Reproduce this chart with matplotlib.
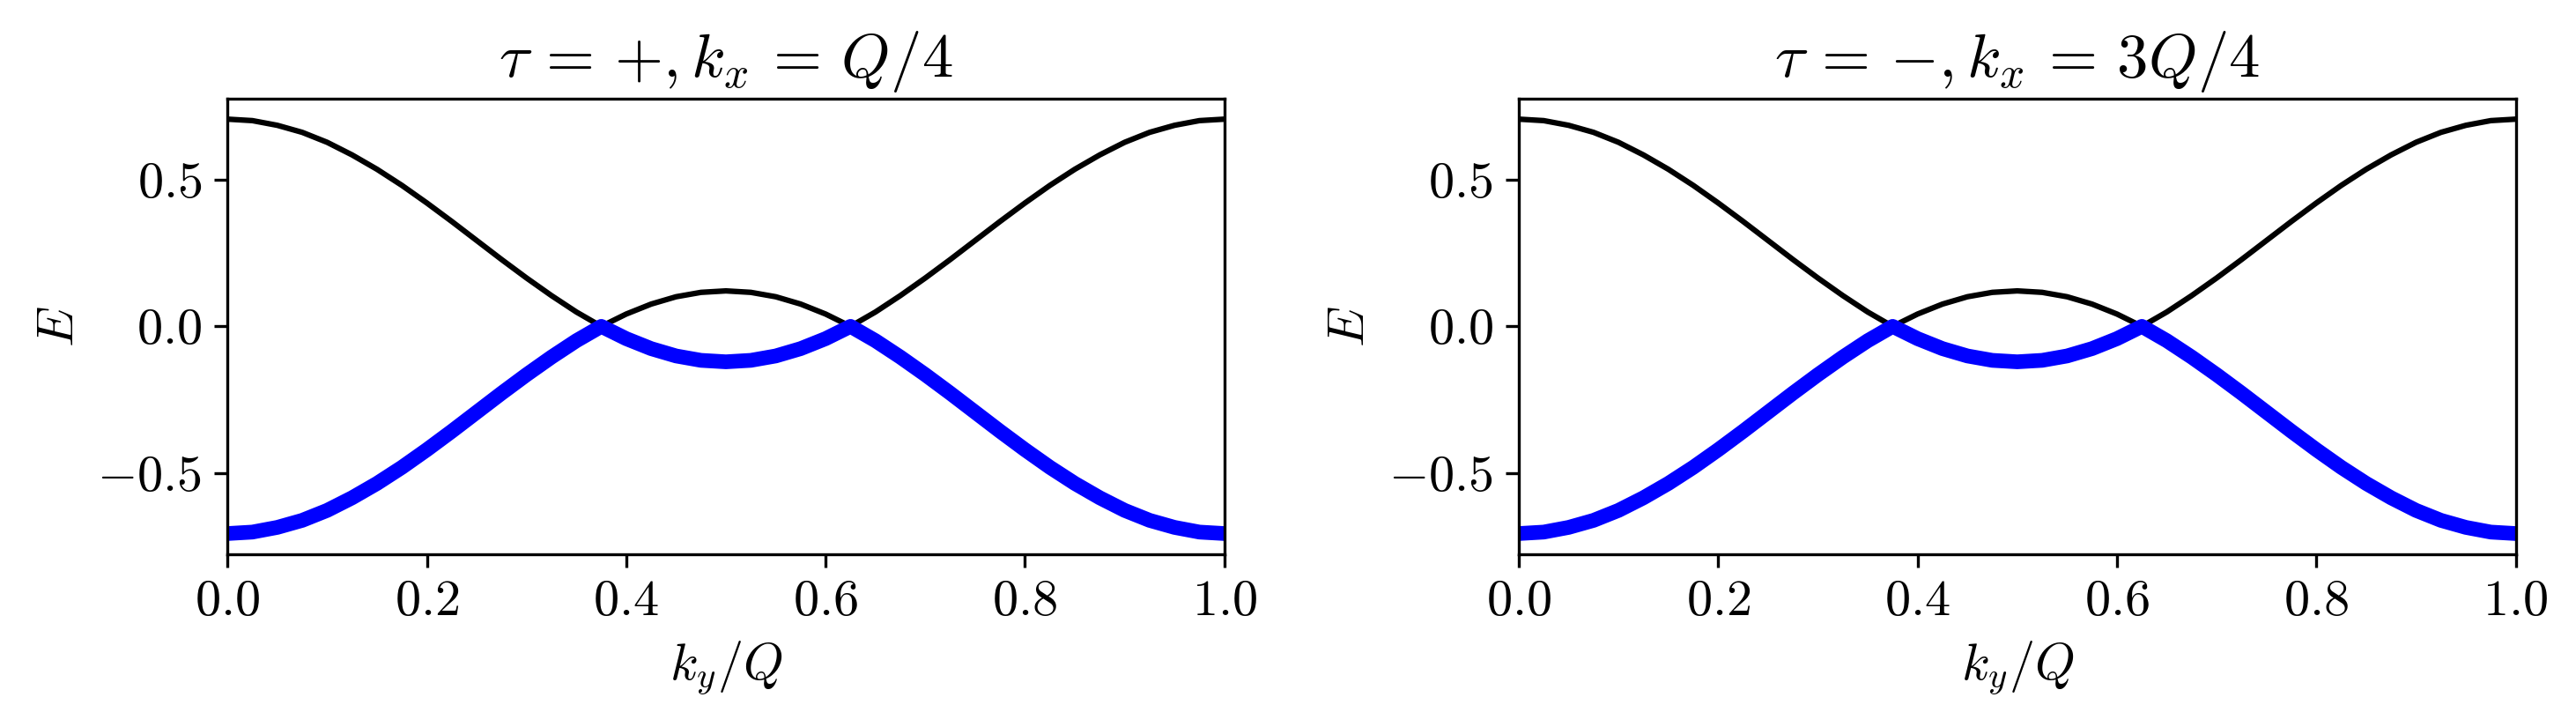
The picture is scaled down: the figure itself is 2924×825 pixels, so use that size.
import matplotlib
matplotlib.use("Agg")
import matplotlib.pyplot as plt

# LaTeX-like look without needing latex
plt.rcParams['font.family'] = 'serif'
plt.rcParams['font.serif'] = ['cmr10']
plt.rcParams['mathtext.fontset'] = 'cm'
plt.rcParams['axes.formatter.use_mathtext'] = True
plt.rcParams['axes.unicode_minus'] = True

# ky/Q sample points (every 0.025)
ky = [0.0, 0.025, 0.05, 0.075, 0.1, 0.125, 0.15, 0.175, 0.2, 0.225,
      0.25, 0.275, 0.3, 0.325, 0.35, 0.375, 0.4, 0.425, 0.45, 0.475,
      0.5, 0.525, 0.55, 0.575, 0.6, 0.625, 0.65, 0.675, 0.7, 0.725,
      0.75, 0.775, 0.8, 0.825, 0.85, 0.875, 0.9, 0.925, 0.95, 0.975, 1.0]

# upper band (black), same in both panels
E_upper = [0.707, 0.702, 0.686, 0.662, 0.628, 0.585, 0.536, 0.481, 0.421, 0.358,
           0.293, 0.228, 0.165, 0.105, 0.049, 0.000, 0.042, 0.076, 0.101, 0.116,
           0.121, 0.116, 0.101, 0.076, 0.042, 0.000, 0.049, 0.105, 0.165, 0.228,
           0.293, 0.358, 0.421, 0.481, 0.536, 0.585, 0.628, 0.662, 0.686, 0.702, 0.707]

# lower band (blue, thick)
E_lower = [-0.707, -0.702, -0.686, -0.662, -0.628, -0.585, -0.536, -0.481, -0.421, -0.358,
           -0.293, -0.228, -0.165, -0.105, -0.049, 0.000, -0.042, -0.076, -0.101, -0.116,
           -0.121, -0.116, -0.101, -0.076, -0.042, 0.000, -0.049, -0.105, -0.165, -0.228,
           -0.293, -0.358, -0.421, -0.481, -0.536, -0.585, -0.628, -0.662, -0.686, -0.702, -0.707]

titles = [r'$\tau\,=\,{+}, k_x\,=\,Q/4$', r'$\tau\,=\,{-}, k_x\,=\,3Q/4$']

fig = plt.figure(figsize=(2924/300, 825/300), dpi=300)
ax1 = fig.add_axes([0.0883, 0.2376, 0.3870, 0.6270])
ax2 = fig.add_axes([0.5896, 0.2376, 0.3870, 0.6270])

for ax, ttl in zip([ax1, ax2], titles):
    ax.plot(ky, E_upper, color='k', lw=1.5)
    ax.plot(ky, E_lower, color='b', lw=4)
    ax.set_xlim(0, 1)
    ax.set_xticks([0.0, 0.2, 0.4, 0.6, 0.8, 1.0])
    ax.set_yticks([-0.5, 0.0, 0.5])
    ax.tick_params(labelsize=14)
    ax.set_xlabel(r'$k_y/Q$', fontsize=14)
    ax.set_ylabel(r'$E$', fontsize=14)
    ax.set_title(ttl, fontsize=17)

fig.savefig('out.png', dpi=300)
